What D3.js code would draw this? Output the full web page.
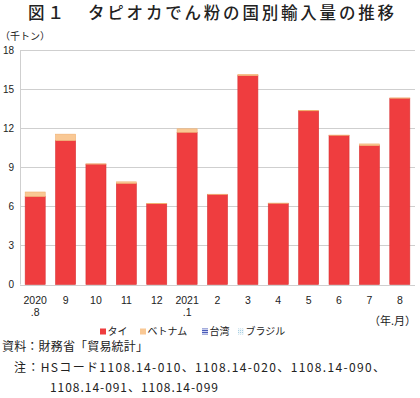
<!DOCTYPE html>
<html>
<head>
<meta charset="utf-8">
<script src="https://cdn.jsdelivr.net/npm/d3@7"></script>
<style>
  body { margin: 0; background: #fff; }
  svg text { font-family: "Noto Sans CJK JP", "Noto Sans", sans-serif; fill: #222; }
</style>
</head>
<body>
<div id="viz"></div>
<script>
// months on the x axis, two-line labels
const months = ["2020\n.8", "9", "10", "11", "12", "2021\n.1", "2", "3", "4", "5", "6", "7", "8"];
const thai    = [6.75, 11.04, 9.24, 7.76, 6.2, 11.68, 6.9, 16.03, 6.23, 13.33, 11.45, 10.66, 14.3];
const vietnam = [0.35, 0.5, 0.02, 0.12, 0.02, 0.27, 0.03, 0.1, 0.02, 0.03, 0.02, 0.13, 0.02];
const taiwan  = [0, 0, 0, 0, 0, 0, 0, 0, 0, 0, 0, 0, 0];
const brazil  = [0, 0, 0, 0, 0, 0, 0, 0, 0, 0, 0, 0, 0];
const yTicks = [0, 3, 6, 9, 12, 15, 18];
const seriesNames = ["タイ", "ベトナム", "台湾", "ブラジル"];

const W = 420, H = 398;
const margin = {top: 50, right: 5, bottom: 113, left: 20};

const svg = d3.select("#viz").append("svg")
  .attr("width", W)
  .attr("height", H);

const defs = svg.append("defs");
const stripe = defs.append("pattern").attr("id", "stripe")
  .attr("width", 3).attr("height", 2).attr("patternUnits", "userSpaceOnUse");
stripe.append("rect").attr("width", 3).attr("height", 2).attr("fill", "#c9cff0");
stripe.append("rect").attr("width", 3).attr("height", 1).attr("fill", "#4a5bb8");
const dots = defs.append("pattern").attr("id", "dots")
  .attr("width", 2).attr("height", 2).attr("patternUnits", "userSpaceOnUse");
dots.append("rect").attr("width", 2).attr("height", 2).attr("fill", "#eef6fa");
dots.append("rect").attr("width", 1).attr("height", 1).attr("fill", "#a9cfe2");

const colors = ["#ef3d3f", "#f9c894", "url(#stripe)", "url(#dots)"];
const strokes = ["#d93436", "#f0b070", "#4a5bb8", "#9cc6dc"];

const x = d3.scaleBand()
  .domain(months)
  .range([margin.left, W - margin.right])
  .paddingInner(0.34)
  .paddingOuter(0.17);

const y = d3.scaleLinear()
  .domain([0, 18])
  .range([H - margin.bottom - 0.5, margin.top]);

// title
svg.append("text")
  .attr("x", 28).attr("y", 19)
  .style("font-size", "16.5px")
  .style("font-weight", "500")
  .style("letter-spacing", "3px")
  .text("図１");
svg.append("text")
  .attr("x", 88).attr("y", 19)
  .style("font-size", "16.5px")
  .style("font-weight", "500")
  .style("letter-spacing", "2.8px")
  .text("タピオカでん粉の国別輸入量の推移");

// gridlines
svg.append("g").selectAll("line")
  .data(yTicks)
  .enter()
  .append("line")
  .attr("x1", margin.left).attr("x2", W - margin.right)
  .attr("y1", d => Math.round(y(d)) + 0.5)
  .attr("y2", d => Math.round(y(d)) + 0.5)
  .attr("stroke", "#cfcfcf")
  .attr("stroke-width", 1.2);

svg.append("line")
  .attr("x1", margin.left + 0.5).attr("x2", margin.left + 0.5)
  .attr("y1", y(18)).attr("y2", y(0))
  .attr("stroke", "#cfcfcf");

// y tick labels
svg.append("g").selectAll("text")
  .data(yTicks)
  .enter()
  .append("text")
  .attr("x", 14)
  .attr("y", d => y(d) + 3.5)
  .attr("text-anchor", "end")
  .style("font-size", "10px")
  .style("font-family", "Arial, 'Liberation Sans', sans-serif")
  .text(d => d);

svg.append("text")
  .attr("x", 0).attr("y", 40)
  .style("font-size", "10px")
  .text("（千トン）");

// stacked bars
const rows = months.map((m, i) => ({m, s0: thai[i], s1: vietnam[i], s2: taiwan[i], s3: brazil[i]}));
const stack = d3.stack().keys(["s0", "s1", "s2", "s3"])(rows);

svg.append("g").selectAll("g")
  .data(stack)
  .enter()
  .append("g")
  .attr("fill", (d, i) => colors[i])
  .attr("stroke", (d, i) => strokes[i])
  .attr("stroke-width", 0.6)
  .selectAll("rect")
  .data(d => d.filter(p => p[1] - p[0] > 0))
  .enter()
  .append("rect")
  .attr("x", d => x(d.data.m))
  .attr("width", x.bandwidth())
  .attr("y", d => y(d[1]))
  .attr("height", d => y(d[0]) - y(d[1]));

// x tick labels
const xl = svg.append("g").selectAll("text")
  .data(months)
  .enter()
  .append("text")
  .attr("x", d => x(d) + x.bandwidth() / 2)
  .attr("y", 304)
  .attr("text-anchor", "middle")
  .style("font-size", "10.5px")
  .style("font-family", "Arial, 'Liberation Sans', sans-serif");
xl.selectAll("tspan")
  .data(d => d.split("\n"))
  .enter()
  .append("tspan")
  .attr("x", function() { return d3.select(this.parentNode).attr("x"); })
  .attr("dy", (d, i) => i === 0 ? 0 : 11.5)
  .text(d => d);

svg.append("text")
  .attr("x", 416).attr("y", 325)
  .attr("text-anchor", "end")
  .style("font-size", "11px")
  .text("（年.月）");

// legend
const legX = [100, 140, 202, 238];
const leg = svg.append("g").selectAll("g")
  .data(seriesNames)
  .enter()
  .append("g")
  .attr("transform", (d, i) => `translate(${legX[i]},328)`);
leg.append("rect")
  .attr("x", 0).attr("y", 0.5)
  .attr("width", 6).attr("height", 6)
  .attr("fill", (d, i) => colors[i]);
leg.append("text")
  .attr("x", 7.5).attr("y", 6.5)
  .style("font-size", "10px")
  .text(d => d);

// source and notes
const notes = [
  {x: 2, y: 351, t: "資料：財務省「貿易統計」", len: 146},
  {x: 14, y: 372, t: "注：HSコード1108.14-010、1108.14-020、1108.14-090、", len: 371},
  {x: 50, y: 392, t: "1108.14-091、1108.14-099", len: 168}
];
svg.append("g").selectAll("text")
  .data(notes)
  .enter()
  .append("text")
  .attr("x", d => d.x)
  .attr("y", d => d.y)
  .attr("textLength", d => d.len)
  .attr("lengthAdjust", "spacing")
  .style("font-size", "12px")
  .text(d => d.t);
</script>
</body>
</html>
